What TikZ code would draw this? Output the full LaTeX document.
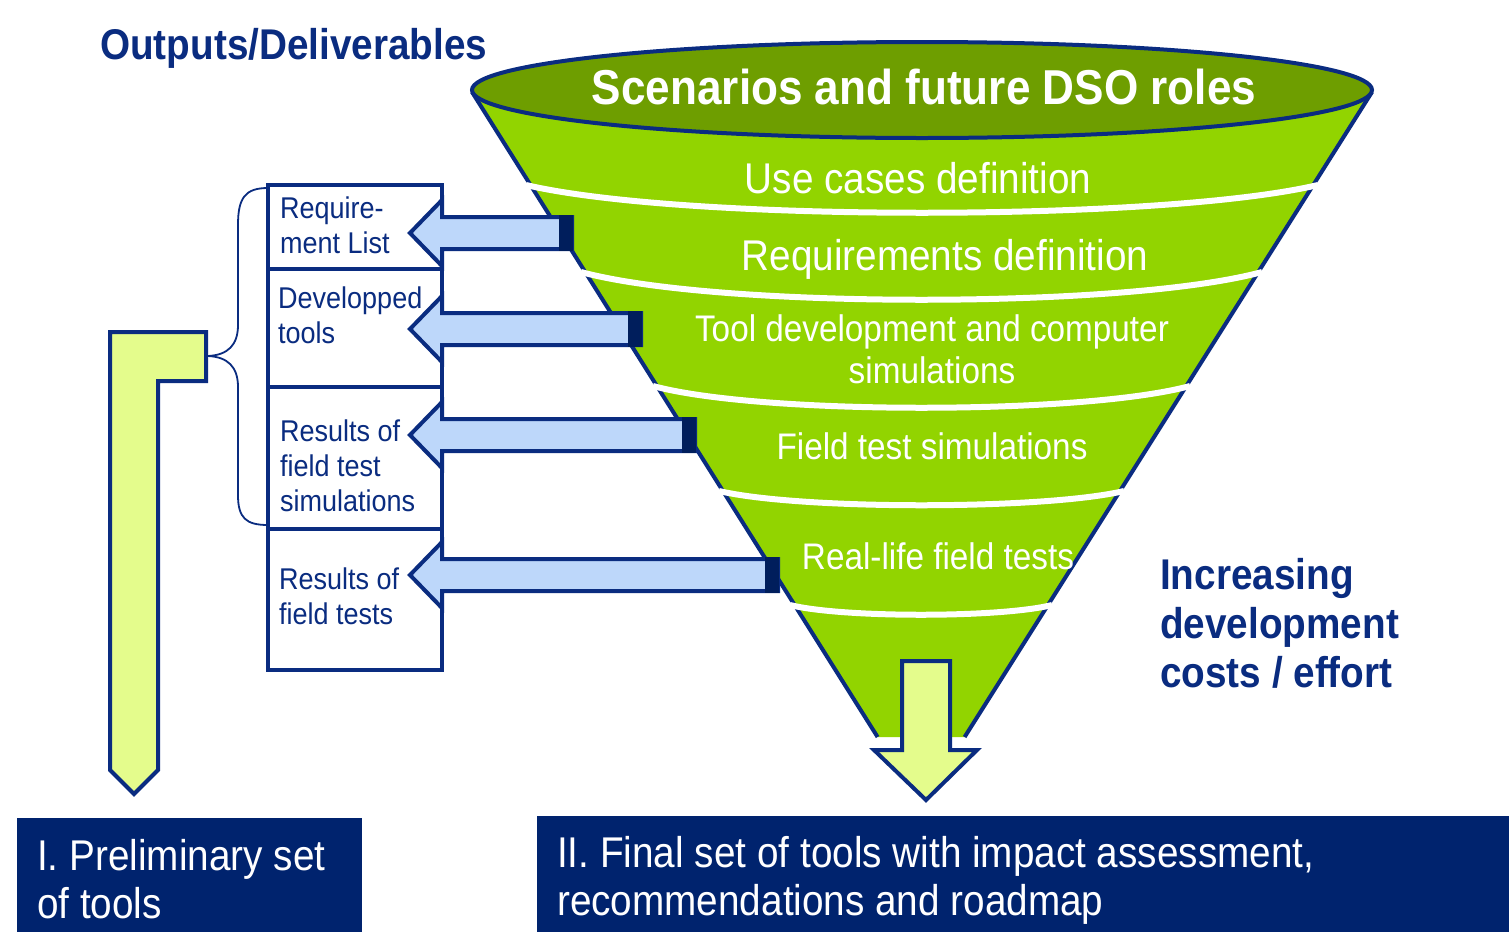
\documentclass[tikz,border=0pt]{standalone}
\usepackage{fontspec}
\setmainfont{Liberation Sans}[FakeStretch=0.9]
\definecolor{navy}{HTML}{0A2C80}
\definecolor{navyfill}{HTML}{00236E}
\definecolor{navydark}{HTML}{001E5C}
\definecolor{conegreen}{HTML}{92D400}
\definecolor{topgreen}{HTML}{6E9E00}
\definecolor{lblue}{HTML}{BDD7FA}
\definecolor{lyellow}{HTML}{E4FC8C}
\begin{document}
\begin{tikzpicture}[x=1pt,y=-1pt,
  outline/.style={draw=navy, line width=4pt},
  sepline/.style={draw=white, line width=6pt},
  funnelbig/.style={text=white, inner sep=0pt, anchor=base, font=\fontsize{43}{50}\selectfont},
  funnelsmall/.style={text=white, inner sep=0pt, anchor=base, font=\fontsize{37}{42}\selectfont},
  boxtxt/.style={text=navy, inner sep=0pt, anchor=base west, font=\fontsize{30}{35}\selectfont},
  bottomtxt/.style={text=white, inner sep=0pt, anchor=base west, font=\fontsize{43}{48}\selectfont},
  boldtxt/.style={text=navy, inner sep=0pt, anchor=base west, font=\fontsize{43}{49}\selectfont\bfseries},
  outbox/.style={outline, fill=white},
  bluearrow/.style={outline, fill=lblue},
  tailblock/.style={fill=navydark},
  yarrow/.style={outline, fill=lyellow},
  brace/.style={draw=navy, line width=1.8pt},
  darkbox/.style={fill=navyfill}
]
\useasboundingbox (0,0) rectangle (1509,932);
\fill[white] (0,0) rectangle (1509,932);

% funnel body
\fill[conegreen] (472,92) -- (877.6,737) -- (964.6,737) -- (1372,92) -- cycle;
\draw[outline] (472,92) -- (877.6,737);
\draw[outline] (1372,92) -- (964.6,737);
% separators
\draw[sepline] (526,185) .. controls (684,222) and (1160,222) .. (1318,185);
\draw[sepline] (581,272) .. controls (717,309) and (1126,309) .. (1262,272);
\draw[sepline] (653,386) .. controls (760,415) and (1083,415) .. (1190,386);
\draw[sepline] (719,491) .. controls (800,510) and (1043,510) .. (1124,491);
\draw[sepline] (790,605) .. controls (842,618) and (1000,618) .. (1052,605);
% top ellipse
\draw[outline, fill=topgreen] (922,90) ellipse [x radius=450pt, y radius=48pt];

\node[funnelbig, font=\fontsize{49}{55}\selectfont\bfseries] (title) at (924,104) {Scenarios and future DSO roles};
\node[funnelbig] (uc) at (918,193) {Use cases definition};
\node[funnelbig] (rd) at (945,270) {Requirements definition};
\node[funnelsmall] (td1) at (932,341) {Tool development and computer};
\node[funnelsmall] (td2) at (932,383) {simulations};
\node[funnelsmall] (fts) at (932,459) {Field test simulations};
\node[funnelsmall] (rlf) at (938,569) {Real-life field tests};

% output boxes
\draw[outbox] (268,185) rectangle (442,269);
\draw[outbox] (268,269) rectangle (442,387);
\draw[outbox] (268,387) rectangle (442,529);
\draw[outbox] (268,529) rectangle (442,670);

\node[boxtxt] (b1a) at (280,218) {Require-};
\node[boxtxt] (b1b) at (280,253) {ment List};
\node[boxtxt] (b2a) at (278,308) {Developped};
\node[boxtxt] (b2b) at (278,343) {tools};
\node[boxtxt] (b3a) at (280,441) {Results of};
\node[boxtxt] (b3b) at (280,476) {field test};
\node[boxtxt] (b3c) at (280,511) {simulations};
\node[boxtxt] (b4a) at (279,589) {Results of};
\node[boxtxt] (b4b) at (279,624) {field tests};

% blue arrows
\foreach \c/\t in {233/572, 329/641, 435/695, 575/778}{
  \draw[bluearrow] (410,\c) -- (442,\c-33) -- (442,\c-16) -- (\t,\c-16) -- (\t,\c+16) -- (442,\c+16) -- (442,\c+33) -- cycle;
  \fill[tailblock] (\t-13,\c-18) rectangle (\t+1,\c+18);
}

% brace
\draw[brace] (268,188) .. controls (245,188) and (238,198) .. (238,225) -- (238,325)
  .. controls (238,345) and (228,355) .. (208,356)
  .. controls (228,357) and (238,367) .. (238,387) -- (238,495)
  .. controls (238,518) and (246,525) .. (268,525);

% L-shaped yellow arrow
\draw[yarrow] (110,332) -- (206,332) -- (206,381) -- (158,381) -- (158,770) -- (134,794) -- (110,770) -- cycle;

% bottom arrow from funnel
\draw[yarrow] (902,661) -- (950,661) -- (950,750) -- (977,750) -- (926,800) -- (874,750) -- (902,750) -- cycle;

% bottom boxes
\fill[darkbox] (17,818) rectangle (362,932);
\fill[darkbox] (537,816) rectangle (1509,932);
\node[bottomtxt] (p1) at (37,870) {I. Preliminary set};
\node[bottomtxt] (p2) at (37,918) {of tools};
\node[bottomtxt] (f1) at (557,867) {II. Final set of tools with impact assessment,};
\node[bottomtxt] (f2) at (557,915) {recommendations and roadmap};

% headings
\node[boldtxt] (out) at (100,59) {Outputs/Deliverables};
\node[boldtxt] (inc1) at (1160,589) {Increasing};
\node[boldtxt] (inc2) at (1160,638) {development};
\node[boldtxt] (inc3) at (1160,687) {costs / effort};
\end{tikzpicture}
\end{document}
